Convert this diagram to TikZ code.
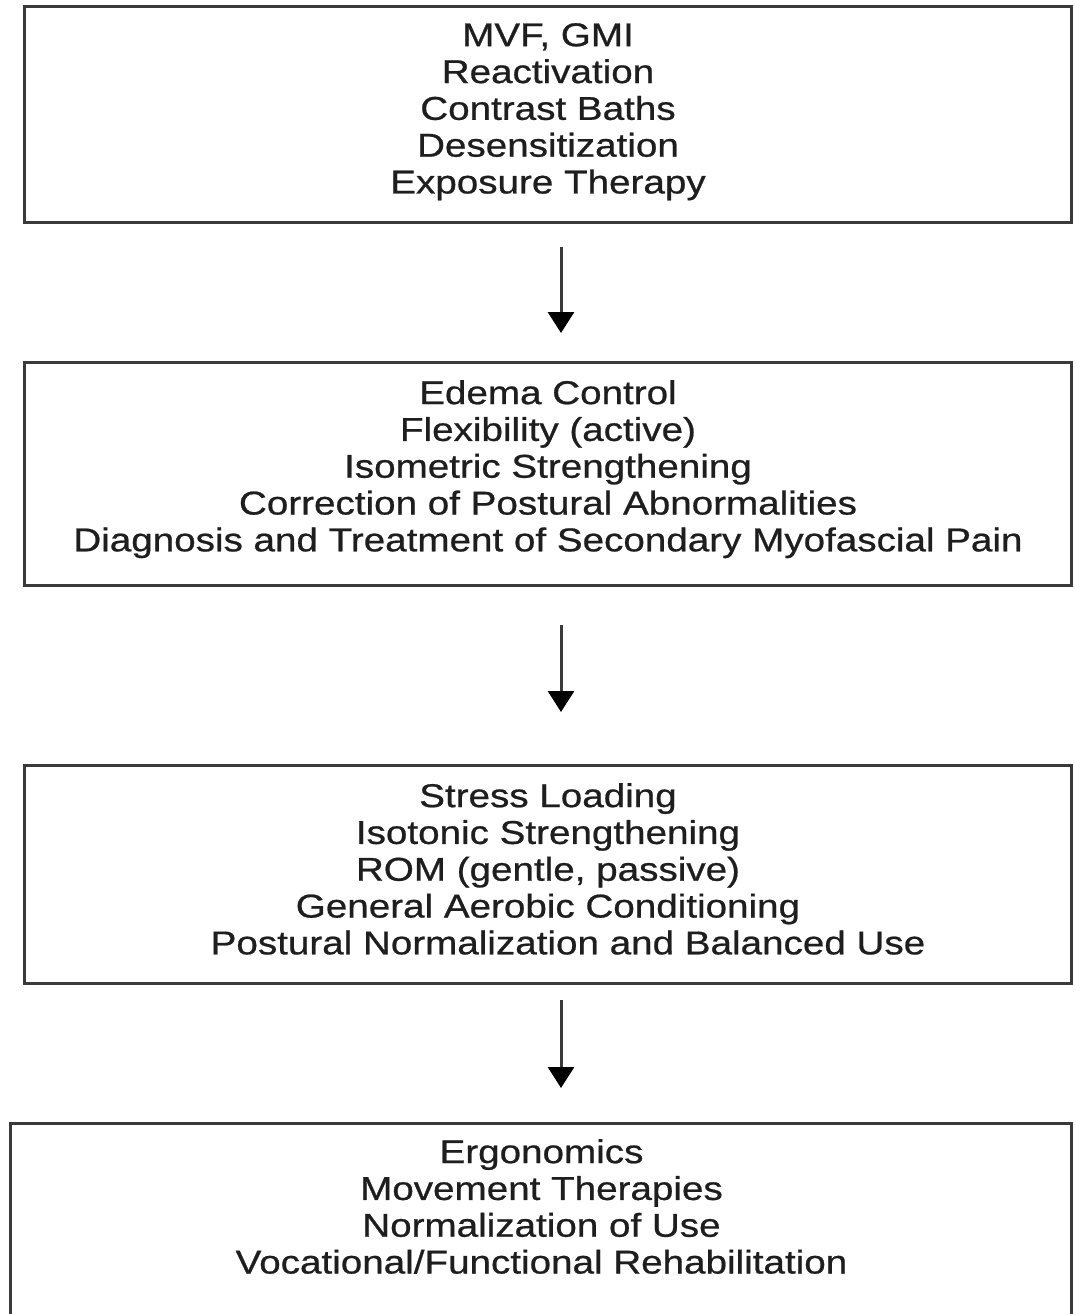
\documentclass[tikz,border=0pt]{standalone}
\usepackage{fontspec}
\setmainfont[FakeStretch=1.17,FakeBold=0.7]{Liberation Sans}
\usetikzlibrary{arrows.meta}
\definecolor{boxline}{HTML}{3A3A3A}
\definecolor{txt}{HTML}{1E1E1E}
\tikzset{
  stagebox/.style={draw=boxline, line width=3pt, rectangle, inner sep=0pt},
  stagetext/.style={anchor=north, align=center, inner sep=0pt, text=txt,
    font=\fontsize{33pt}{36.8pt}\selectfont},
  flowarrow/.style={draw=boxline, line width=3pt,
    -{Triangle[width=26pt,length=21pt,color=black,fill=black]}}
}
\begin{document}
\begin{tikzpicture}[x=1pt,y=-1pt]
\useasboundingbox (0,0) rectangle (1074,1314);
\clip (0,0) rectangle (1074,1314);
\fill[white] (0,0) rectangle (1074,1314);
% boxes
\node[stagebox, minimum width=1047pt, minimum height=216pt] (b1) at (548,114.5) {};
\node[stagebox, minimum width=1047pt, minimum height=223pt] (b2) at (548,474) {};
\node[stagebox, minimum width=1047pt, minimum height=218pt] (b3) at (548,874.5) {};
\node[stagebox, minimum width=1061pt, minimum height=216pt] (b4) at (541,1231.5) {};
% texts
\node[stagetext] (t1) at (548,23) {MVF, GMI\\Reactivation\\Contrast Baths\\Desensitization\\Exposure Therapy};
\node[stagetext] (t2) at (548,380) {Edema Control\\Flexibility (active)\\Isometric Strengthening\\Correction of Postural Abnormalities\\Diagnosis and Treatment of Secondary Myofascial Pain};
\node[stagetext] (t3) at (548,783) {Stress Loading\\Isotonic Strengthening\\ROM (gentle, passive)\\General Aerobic Conditioning\\\hspace*{40pt}Postural Normalization and Balanced Use};
\node[stagetext] (t4) at (541.5,1139) {Ergonomics\\Movement Therapies\\Normalization of Use\\Vocational/Functional Rehabilitation};
% arrows
\draw[flowarrow] ([xshift=13pt,yshift=-23pt]b1.south) -- ([xshift=13pt,yshift=28pt]b2.north);
\draw[flowarrow] ([xshift=13pt,yshift=-38pt]b2.south) -- ([xshift=13pt,yshift=52pt]b3.north);
\draw[flowarrow] ([xshift=13pt,yshift=-15pt]b3.south) -- ([xshift=20pt,yshift=34pt]b4.north);
\end{tikzpicture}
\end{document}
